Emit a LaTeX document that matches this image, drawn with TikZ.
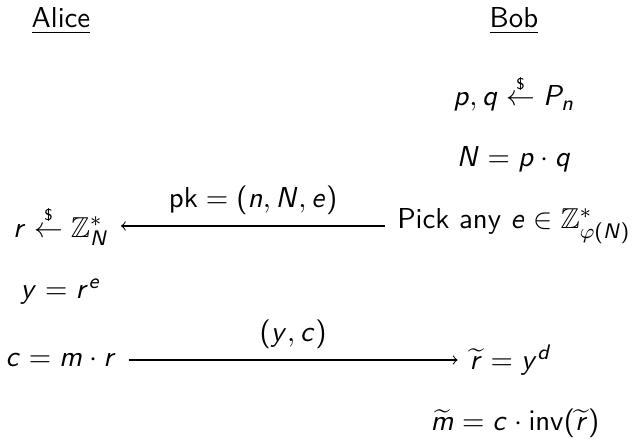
\documentclass[tikz,border=0pt]{standalone}
\usepackage{amsmath,amssymb}
\renewcommand{\familydefault}{\sfdefault}
% sans serif math letters, digits and operators
\DeclareSymbolFont{operators}{OT1}{cmss}{m}{n}
\DeclareSymbolFont{sfletters}{OT1}{cmss}{m}{sl}
\makeatletter
\count@=`a \loop \mathcode\count@=\numexpr"7000+\symsfletters*"100+\count@\relax
  \ifnum\count@<`z \advance\count@ 1 \repeat
\count@=`A \loop \mathcode\count@=\numexpr"7000+\symsfletters*"100+\count@\relax
  \ifnum\count@<`Z \advance\count@ 1 \repeat
\makeatother
\newcommand{\sampleto}{\mathrel{\overset{\scriptscriptstyle\$}{\leftarrow}}}
\begin{document}
\begin{tikzpicture}[x=0.38pt,y=-0.38pt,
  every node/.style={font=\fontsize{10.95}{13.6}\selectfont},
  party/.style={inner sep=4.4pt},
  msg/.style={->,>=to},
  msglabel/.style={above,inner sep=4.2pt}]
\useasboundingbox (0,0) rectangle (632,443);
\node[anchor=base] (alice) at (61,28) {\underline{Alice}};
\node[anchor=base] (bob) at (514,28) {\underline{Bob}};
\node[anchor=base] (primes) at (514,106) {$p,q \sampleto P_n$};
\node[anchor=base] (modulus) at (514,167) {$N = p\cdot q$};
% first message: public key
\node[party] (rand) at (61,226) {$r \sampleto \mathbb{Z}_N^*$};
\node[party] (pick) at (514,226) {Pick any $e \in \mathbb{Z}_{\varphi(N)}^*$};
\draw[msg] (pick) -- node[msglabel] {$\mathsf{pk} = (n,N,e)$} (rand);
\node[anchor=base] (blind) at (61,299) {$y = r^e$};
% second message: ciphertext
\node[party] (cipher) at (61,360) {$c = m\cdot r$};
\node[party] (unblind) at (511,360) {$\widetilde{r} = y^d$};
\draw[msg] (cipher) -- node[msglabel] {$(y,c)$} (unblind);
\node[anchor=base] (decrypt) at (515,431) {$\widetilde{m} = c\cdot \mathsf{inv}(\widetilde{r})$};
\end{tikzpicture}
\end{document}
